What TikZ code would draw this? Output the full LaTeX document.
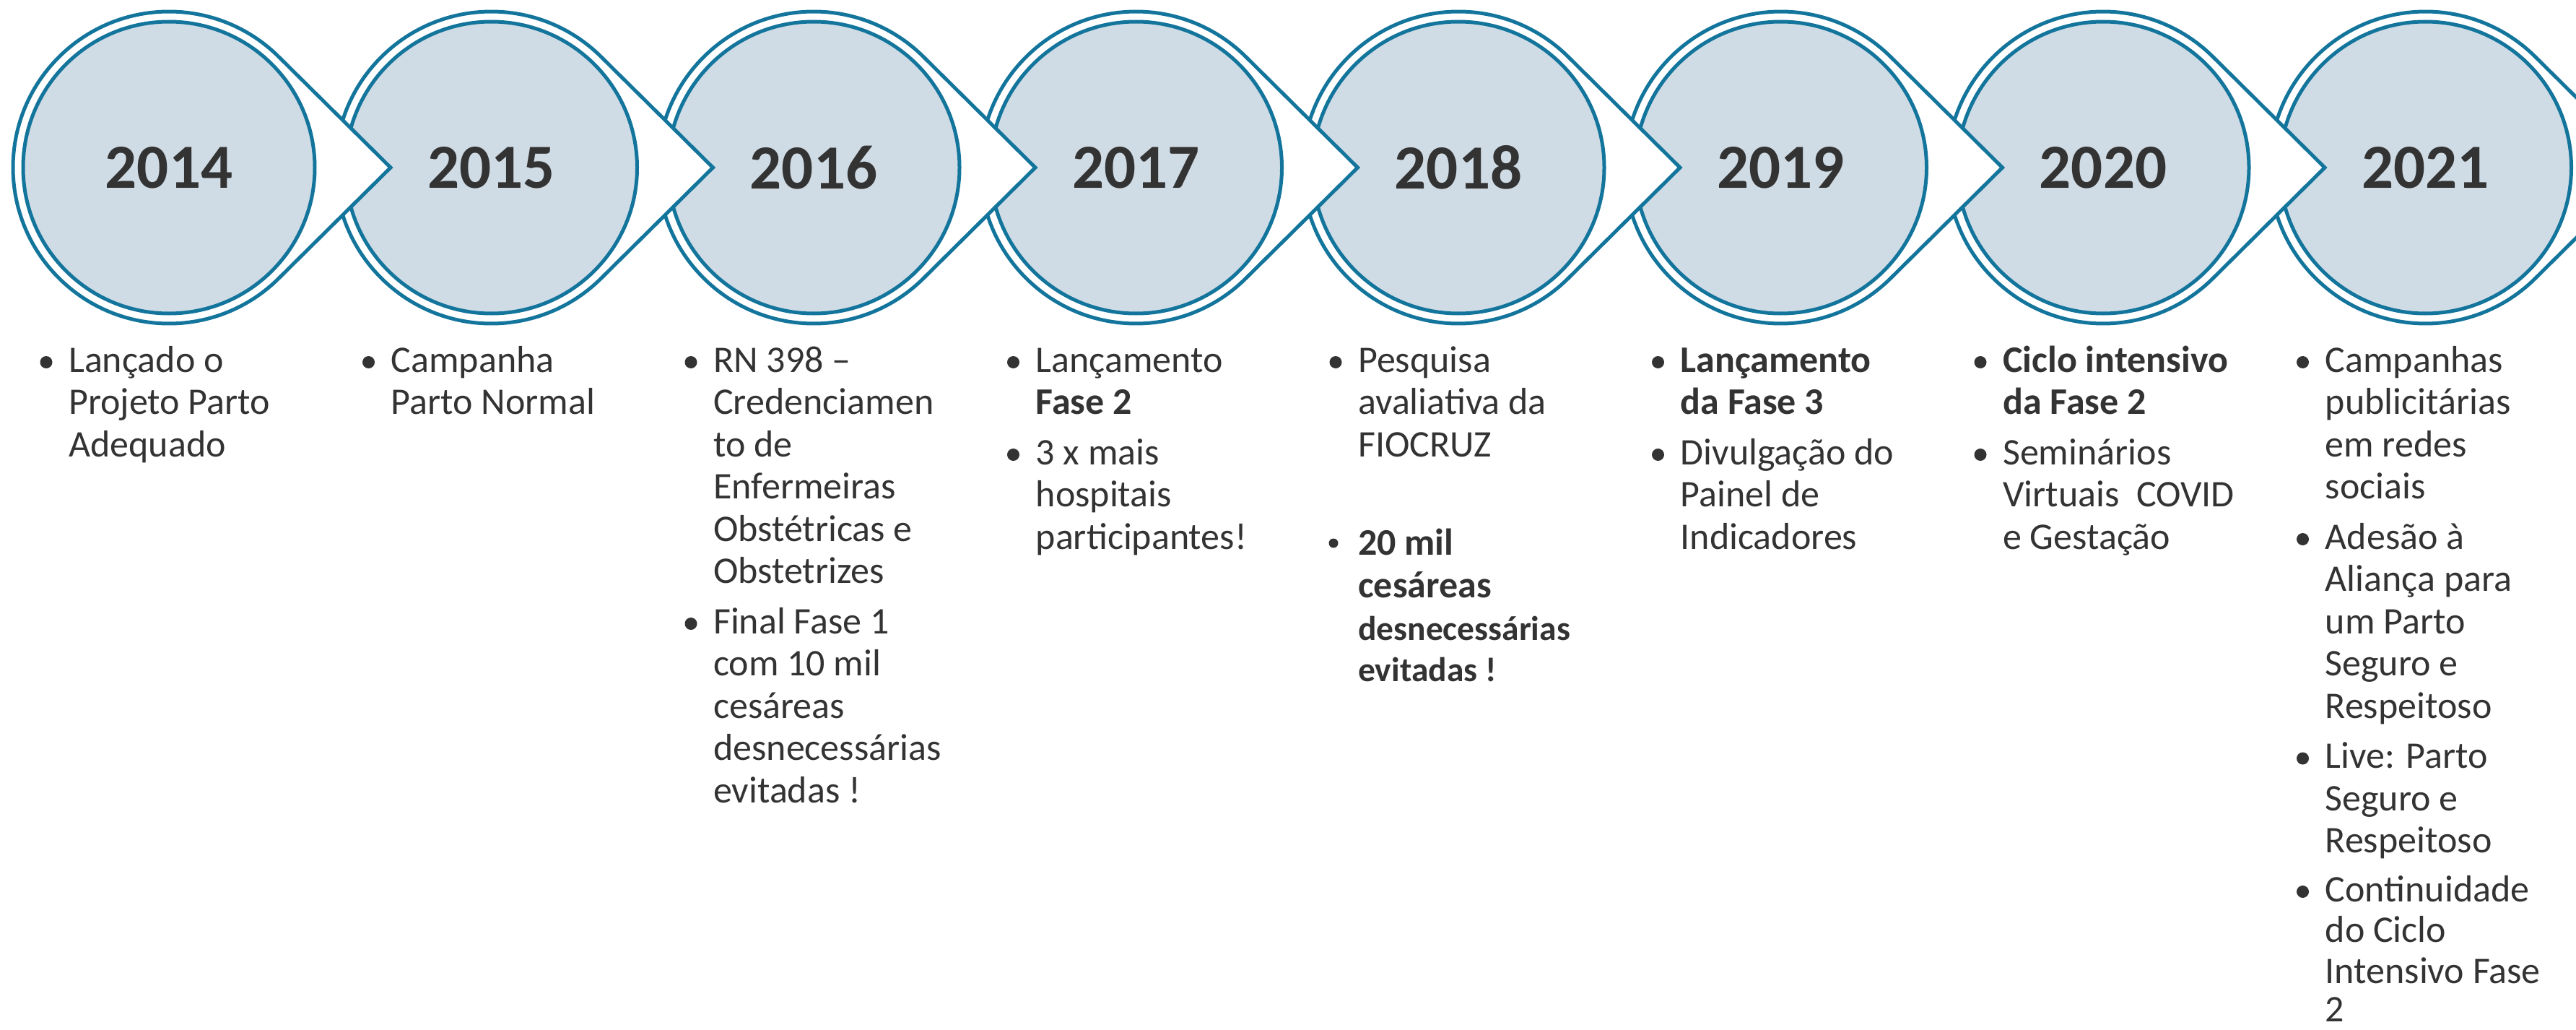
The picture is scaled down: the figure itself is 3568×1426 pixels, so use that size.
\documentclass[tikz,border=0pt]{standalone}
\usepackage{fontspec}
\setmainfont{Carlito}
\usetikzlibrary{calc}
\definecolor{ringblue}{HTML}{13759C}
\definecolor{innerfill}{HTML}{D0DCE5}
\definecolor{tc}{HTML}{333333}
\newcommand\bitem[4]{%
  \node[bul] (#3b) at (#1-170,-#2+13.5) {};
  \foreach \l [count=\k from 0] in {#4} \node[txt] (#3\k) at (#1-139,-#2-58.5*\k) {\l};
}
\begin{document}
\begin{tikzpicture}[x=1pt,y=1pt,
  ring/.style={draw=ringblue, line width=5pt, fill=white, line join=miter, miter limit=10},
  yearball/.style={circle, draw=ringblue, line width=5pt, fill=innerfill, minimum size=404pt, inner sep=0pt, text=tc, font=\fontsize{87}{100}\selectfont\bfseries},
  txt/.style={anchor=base west, inner sep=0pt, text=tc, font=\fontsize{52}{58.5}\selectfont},
  bul/.style={circle, fill=tc, inner sep=0pt, minimum size=17pt},
]
\useasboundingbox (0,0) rectangle (3568,-1426);
\foreach \i/\yr in {7/2021,6/2020,5/2019,4/2018,3/2017,2/2016,1/2015,0/2014}{
  \pgfmathsetmacro\cx{234+446.5*\i}
  \coordinate (c\yr) at (\cx,-232);
  \draw[ring] (\cx+307,-232) -- ($(c\yr)+(45.3:216)$) arc[start angle=45.3,end angle=314.7,radius=216] -- cycle;
  \node[yearball] (y\yr) at (c\yr) {\yr};
}
% 2014
\bitem{234}{515}{a14}{Lançado o,Projeto Parto,Adequado}
% 2015
\bitem{680.5}{515}{a15}{Campanha,Parto Normal}
% 2016
\bitem{1127}{515}{a16}{RN 398 –,Credenciamen,to de,Enfermeiras,Obstétricas e,Obstetrizes}
\bitem{1127}{877}{b16}{Final Fase 1,com 10 mil,cesáreas,desnecessárias,evitadas !}
% 2017
\bitem{1573.5}{515}{a17}{Lançamento,\textbf{Fase 2}}
\bitem{1573.5}{643}{b17}{3 x mais,hospitais,participantes!}
% 2018
\bitem{2020}{515}{a18}{Pesquisa,avaliativa da,FIOCRUZ}
\node[bul, minimum size=13pt] (b18b) at (1847,-752) {};
\node[txt, font=\fontsize{52}{58.5}\selectfont\bfseries] (b18l0) at (1881,-768) {20 mil};
\node[txt, font=\fontsize{52}{58.5}\selectfont\bfseries] (b18l1) at (1881,-827) {cesáreas};
\node[txt, font=\fontsize{47.5}{55}\selectfont\bfseries] (b18l2) at (1881,-886) {desnecessárias};
\node[txt, font=\fontsize{47.5}{55}\selectfont\bfseries] (b18l3) at (1881,-943) {evitadas !};
% 2019
\bitem{2466.5}{515}{a19}{\textbf{Lançamento},\textbf{da Fase 3}}
\bitem{2466.5}{643}{b19}{Divulgação do,Painel de,Indicadores}
% 2020
\bitem{2913}{515}{a20}{\textbf{Ciclo intensivo},\textbf{da Fase 2}}
\bitem{2913}{643}{b20}{Seminários,Virtuais\ \ COVID,e Gestação}
% 2021
\bitem{3359.5}{515}{a21}{Campanhas,publicitárias,em redes,sociais}
\bitem{3359.5}{760}{b21}{Adesão à,Aliança para,um Parto,Seguro e,Respeitoso}
\bitem{3359.5}{1063.5}{c21}{Live: Parto,Seguro e,Respeitoso}
\node[bul] (d21b) at (3189.5,-1234.5) {};
\node[txt] (d21l0) at (3220.5,-1248) {Continuidade};
\node[txt] (d21l1) at (3220.5,-1304.5) {do Ciclo};
\node[txt] (d21l2) at (3220.5,-1361) {Intensivo Fase};
\node[txt] (d21l3) at (3220.5,-1414) {2};
\end{tikzpicture}
\end{document}
